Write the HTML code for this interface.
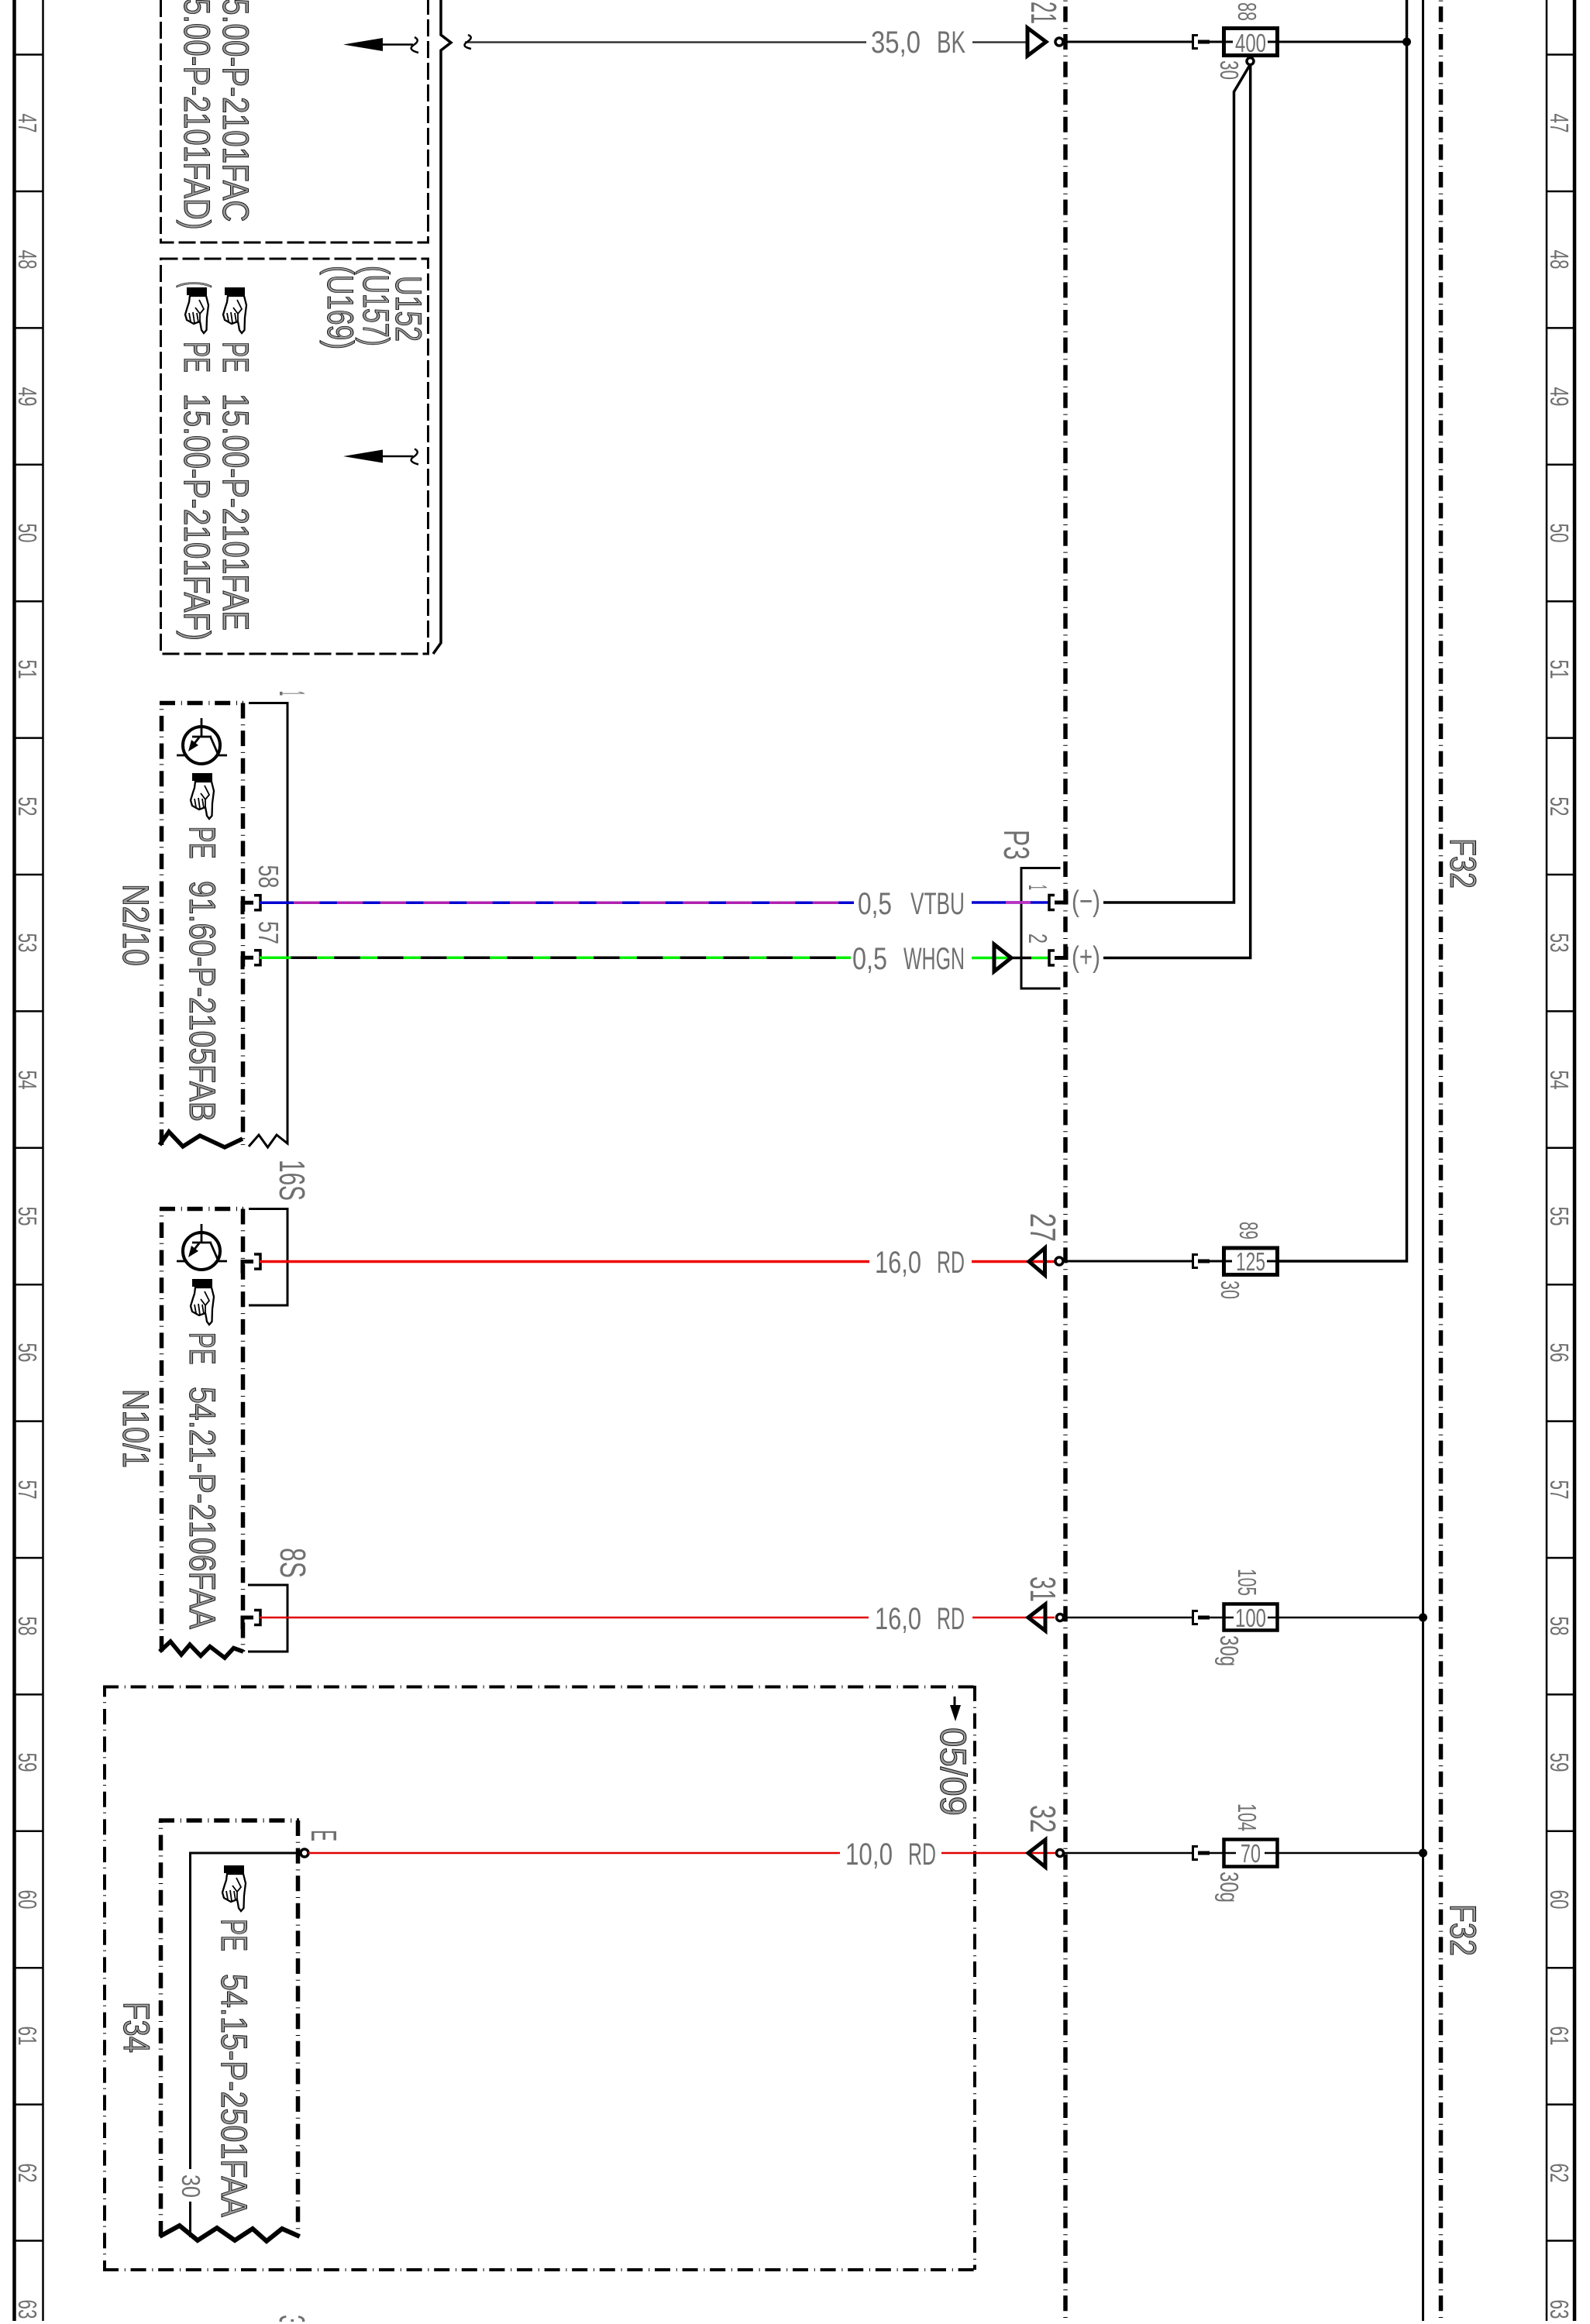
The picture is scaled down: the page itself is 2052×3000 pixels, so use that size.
<!DOCTYPE html>
<html><head><meta charset="utf-8"><title>Diagram</title>
<style>
html,body{margin:0;padding:0;background:#fff}
svg{display:block}
text{font-family:"Liberation Sans",sans-serif}
.t{fill:#707070}
.h{fill:#999;stroke:#111;stroke-width:1}
.w{fill:none;stroke:#000;stroke-linecap:butt;stroke-linejoin:miter}
</style></head><body>
<svg xmlns="http://www.w3.org/2000/svg" width="2052" height="3000" viewBox="0 0 2052 3000">
<defs>
<g id="hand">
<rect x="0" y="-1" width="26" height="10" fill="#000"/>
<path d="M4 10 L3 18 L1 24 L-2 34 L0 41 L9 46 L17 43 L18 48 L19 54 L22 58 L25.500 54 L26 38 L28 22 L25 10Z" fill="#fff" stroke="#000" stroke-width="2.300"/>
<path d="M3 32 L5 43 M8 31 L10 45 M13 32 L15 44 M17 43 L17 33 L22 27 L16 15 M11 25 L17 33" fill="none" stroke="#000" stroke-width="1.800"/>
</g>
<g id="trans">
<circle cx="260" cy="962" r="24" fill="#fff" stroke="#000" stroke-width="4"/>
<path d="M260 927V951M248 951H273M257 952L245 967M272 952L282 975H293M228 975H242" fill="none" stroke="#000" stroke-width="2.800"/>
<path d="M243 970L247 955L256 962Z" fill="#000"/>
</g>
<g id="plugL">
<path d="M313 15V0H327" fill="none" stroke="#000" stroke-width="5"/>
<path d="M328 -9.500H336V9.500H328" fill="none" stroke="#000" stroke-width="3.500"/>
</g>
<g id="plugR">
<path d="M1546 -8.500H1539.500V8.500H1546" fill="none" stroke="#000" stroke-width="3"/>
<path d="M1546 0H1561" stroke="#000" stroke-width="5"/>
</g>
</defs>

<rect width="2052" height="3000" fill="#fff"/>

<!-- rails -->
<g class="w">
<path class="w" d="M18.500 0V2996" stroke-width="4.500"/>
<path class="w" d="M55.500 0V2996" stroke-width="2.500"/>
<path class="w" d="M1996 0V2996" stroke-width="2.500"/>
<path class="w" d="M2032 0V2996" stroke-width="4.500"/>
<path class="w" stroke-width="2.500" d="M18 70.500H55M18 247H55M18 423.400H55M18 599.800H55M18 776.200H55M18 952.600H55M18 1129H55M18 1305.400H55M18 1481.800H55M18 1658.200H55M18 1834.600H55M18 2011H55M18 2187.400H55M18 2363.800H55M18 2540.200H55M18 2716.600H55M18 2892.500H55"/>
<path class="w" stroke-width="2.500" d="M1996 70.500H2032M1996 247H2032M1996 423.400H2032M1996 599.800H2032M1996 776.200H2032M1996 952.600H2032M1996 1129H2032M1996 1305.400H2032M1996 1481.800H2032M1996 1658.200H2032M1996 1834.600H2032M1996 2011H2032M1996 2187.400H2032M1996 2363.800H2032M1996 2540.200H2032M1996 2716.600H2032M1996 2892.500H2032"/>
</g>
<g class="t" font-size="33" text-anchor="middle">
<text transform="translate(24,159) rotate(90)" textLength="25" lengthAdjust="spacingAndGlyphs">47</text>
<text transform="translate(24,335) rotate(90)" textLength="25" lengthAdjust="spacingAndGlyphs">48</text>
<text transform="translate(24,512) rotate(90)" textLength="25" lengthAdjust="spacingAndGlyphs">49</text>
<text transform="translate(24,688) rotate(90)" textLength="25" lengthAdjust="spacingAndGlyphs">50</text>
<text transform="translate(24,864) rotate(90)" textLength="25" lengthAdjust="spacingAndGlyphs">51</text>
<text transform="translate(24,1041) rotate(90)" textLength="25" lengthAdjust="spacingAndGlyphs">52</text>
<text transform="translate(24,1217) rotate(90)" textLength="25" lengthAdjust="spacingAndGlyphs">53</text>
<text transform="translate(24,1394) rotate(90)" textLength="25" lengthAdjust="spacingAndGlyphs">54</text>
<text transform="translate(24,1570) rotate(90)" textLength="25" lengthAdjust="spacingAndGlyphs">55</text>
<text transform="translate(24,1746) rotate(90)" textLength="25" lengthAdjust="spacingAndGlyphs">56</text>
<text transform="translate(24,1923) rotate(90)" textLength="25" lengthAdjust="spacingAndGlyphs">57</text>
<text transform="translate(24,2099) rotate(90)" textLength="25" lengthAdjust="spacingAndGlyphs">58</text>
<text transform="translate(24,2275) rotate(90)" textLength="25" lengthAdjust="spacingAndGlyphs">59</text>
<text transform="translate(24,2452) rotate(90)" textLength="25" lengthAdjust="spacingAndGlyphs">60</text>
<text transform="translate(24,2628) rotate(90)" textLength="25" lengthAdjust="spacingAndGlyphs">61</text>
<text transform="translate(24,2805) rotate(90)" textLength="25" lengthAdjust="spacingAndGlyphs">62</text>
<text transform="translate(24,2981) rotate(90)" textLength="25" lengthAdjust="spacingAndGlyphs">63</text>
<text transform="translate(2001,159) rotate(90)" textLength="25" lengthAdjust="spacingAndGlyphs">47</text>
<text transform="translate(2001,335) rotate(90)" textLength="25" lengthAdjust="spacingAndGlyphs">48</text>
<text transform="translate(2001,512) rotate(90)" textLength="25" lengthAdjust="spacingAndGlyphs">49</text>
<text transform="translate(2001,688) rotate(90)" textLength="25" lengthAdjust="spacingAndGlyphs">50</text>
<text transform="translate(2001,864) rotate(90)" textLength="25" lengthAdjust="spacingAndGlyphs">51</text>
<text transform="translate(2001,1041) rotate(90)" textLength="25" lengthAdjust="spacingAndGlyphs">52</text>
<text transform="translate(2001,1217) rotate(90)" textLength="25" lengthAdjust="spacingAndGlyphs">53</text>
<text transform="translate(2001,1394) rotate(90)" textLength="25" lengthAdjust="spacingAndGlyphs">54</text>
<text transform="translate(2001,1570) rotate(90)" textLength="25" lengthAdjust="spacingAndGlyphs">55</text>
<text transform="translate(2001,1746) rotate(90)" textLength="25" lengthAdjust="spacingAndGlyphs">56</text>
<text transform="translate(2001,1923) rotate(90)" textLength="25" lengthAdjust="spacingAndGlyphs">57</text>
<text transform="translate(2001,2099) rotate(90)" textLength="25" lengthAdjust="spacingAndGlyphs">58</text>
<text transform="translate(2001,2275) rotate(90)" textLength="25" lengthAdjust="spacingAndGlyphs">59</text>
<text transform="translate(2001,2452) rotate(90)" textLength="25" lengthAdjust="spacingAndGlyphs">60</text>
<text transform="translate(2001,2628) rotate(90)" textLength="25" lengthAdjust="spacingAndGlyphs">61</text>
<text transform="translate(2001,2805) rotate(90)" textLength="25" lengthAdjust="spacingAndGlyphs">62</text>
<text transform="translate(2001,2981) rotate(90)" textLength="25" lengthAdjust="spacingAndGlyphs">63</text>
</g>

<!-- dash-dot verticals and bus -->
<g stroke-width="5.500" stroke-dasharray="20 7.800 1 6.800" stroke-dashoffset="27.200">
<path class="w" d="M1375 0V2996"/>
<path class="w" d="M1859.500 0V2996"/>
</g>
<path class="w" d="M1836.500 0V2996" stroke-width="3"/>
<path class="w" d="M1815.500 0V1628H1650" stroke-width="3.500"/>
<circle cx="1815.500" cy="54" r="5.500"/>

<!-- dashed boxes A and B -->
<g stroke-width="3" stroke-dasharray="22 6">
<path class="w" d="M207.500 0V313H552.500V0"/>
<path class="w" d="M207.500 334H552.500V844H207.500Z"/>
</g>
<path class="w" stroke-width="3.500" d="M569 0V45L582 55L569 65V830L559 844"/>
<path class="w" stroke-width="2.500" style="stroke:#333" d="M600 54.500H1118M1255 54.500H1326"/>
<path class="w" stroke-width="2.500" d="M604 45Q612 48 603 54T608 63"/>

<!-- inner arrows -->
<path d="M443 57.500L494 49V66Z"/>
<path class="w" stroke-width="2.500" d="M494 57.500H533"/>
<path class="w" stroke-width="2.500" d="M535 48Q543 52 534 58T540 68"/>
<path d="M443 589L494 580.500V597.500Z"/>
<path class="w" stroke-width="2.500" d="M494 589H533"/>
<path class="w" stroke-width="2.500" d="M535 579.500Q543 583.500 534 589.500T540 599.500"/>

<!-- box text -->
<g class="h" font-size="47">
<text transform="translate(288,-23.500) rotate(90)" textLength="310" lengthAdjust="spacingAndGlyphs">15.00-P-2101FAC</text>
<text transform="translate(238,-23.500) rotate(90)" textLength="320" lengthAdjust="spacingAndGlyphs">15.00-P-2101FAD)</text>
<text transform="translate(288,441) rotate(90)" textLength="40" lengthAdjust="spacingAndGlyphs">PE</text>
<text transform="translate(288,508) rotate(90)" textLength="306" lengthAdjust="spacingAndGlyphs">15.00-P-2101FAE</text>
<text transform="translate(238,363) rotate(90)" textLength="8" lengthAdjust="spacingAndGlyphs">(</text>
<text transform="translate(238,441) rotate(90)" textLength="40" lengthAdjust="spacingAndGlyphs">PE</text>
<text transform="translate(238,508) rotate(90)" textLength="319" lengthAdjust="spacingAndGlyphs">15.00-P-2101FAF)</text>
<text transform="translate(511,356) rotate(90)" textLength="85" lengthAdjust="spacingAndGlyphs">U152</text>
<text transform="translate(469,343) rotate(90)" textLength="104" lengthAdjust="spacingAndGlyphs">(U157)</text>
<text transform="translate(423,343) rotate(90)" textLength="108" lengthAdjust="spacingAndGlyphs">(U169)</text>
</g>
<use href="#hand" x="290" y="372"/>
<use href="#hand" x="241" y="372"/>

<!-- 21 / 400 row -->
<path class="w" stroke-width="5" d="M1326 36V72L1350 54Z"/>
<path class="w" stroke-width="3" d="M1367 54H1539M1561 54H1578M1650 54H1815"/>
<circle cx="1367" cy="54" r="5" fill="#fff" stroke="#000" stroke-width="3.500"/>
<use href="#plugR" y="54"/>
<rect x="1579.500" y="36.500" width="69" height="35" fill="#fff" stroke="#000" stroke-width="5"/>
<path class="w" stroke-width="3" d="M1578 54H1591M1636 54H1650"/>
<text class="t" x="1594" y="67" font-size="33" textLength="40" lengthAdjust="spacingAndGlyphs">400</text>
<path class="w" stroke-width="3.500" d="M1613.700 80V1236.500H1424"/>
<path class="w" stroke-width="3.500" d="M1613 84L1592.500 118.500V1165H1424"/>
<circle cx="1613.500" cy="79" r="4.500" fill="#fff" stroke="#000" stroke-width="3.500"/>
<g class="t" font-size="46">
<text transform="translate(1331,2) rotate(90)" textLength="29" lengthAdjust="spacingAndGlyphs">21</text>
</g>
<g class="t" font-size="33">
<text transform="translate(1598,3) rotate(90)" textLength="24" lengthAdjust="spacingAndGlyphs">88</text>
<text transform="translate(1575,78) rotate(90)" textLength="25" lengthAdjust="spacingAndGlyphs">30</text>
</g>
<g class="t" font-size="40">
<text x="1124" y="68" textLength="64" lengthAdjust="spacingAndGlyphs">35,0</text>
<text x="1209" y="68" textLength="37" lengthAdjust="spacingAndGlyphs">BK</text>
<text x="1107" y="1180" textLength="44" lengthAdjust="spacingAndGlyphs">0,5</text>
<text x="1175" y="1180" textLength="70" lengthAdjust="spacingAndGlyphs">VTBU</text>
<text x="1100" y="1251" textLength="45" lengthAdjust="spacingAndGlyphs">0,5</text>
<text x="1166" y="1251" textLength="79" lengthAdjust="spacingAndGlyphs">WHGN</text>
<text x="1129" y="1643" textLength="60" lengthAdjust="spacingAndGlyphs">16,0</text>
<text x="1209" y="1643" textLength="36" lengthAdjust="spacingAndGlyphs">RD</text>
<text x="1129" y="2103" textLength="60" lengthAdjust="spacingAndGlyphs">16,0</text>
<text x="1209" y="2103" textLength="36" lengthAdjust="spacingAndGlyphs">RD</text>
<text x="1091" y="2407" textLength="61" lengthAdjust="spacingAndGlyphs">10,0</text>
<text x="1172" y="2407" textLength="36" lengthAdjust="spacingAndGlyphs">RD</text>
</g>

<!-- N2/10 -->
<g stroke-width="5.500" stroke-dasharray="20 7.800 1 6.800">
<path class="w" d="M208.500 1478V907.500"/>
<path class="w" d="M206 907.500H314"/>
<path class="w" d="M313.500 907.500V1478"/>
</g>
<path class="w" stroke-width="5.500" d="M206 1478L218 1461L236 1480L258 1466L290 1481L313 1470"/>
<path class="w" stroke-width="3" d="M321 907.500H371V1476L357 1465L345.500 1481L334 1465L321 1480"/>
<use href="#trans"/>
<use href="#hand" x="248" y="999"/>
<g class="h" font-size="47">
<text transform="translate(245,1066.600) rotate(90)" textLength="42" lengthAdjust="spacingAndGlyphs">PE</text>
<text transform="translate(245,1137) rotate(90)" textLength="311" lengthAdjust="spacingAndGlyphs">91.60-P-2105FAB</text>
<text transform="translate(159,1141) rotate(90)" textLength="106" lengthAdjust="spacingAndGlyphs">N2/10</text>
</g>
<use href="#plugL" y="1165.300"/>
<use href="#plugL" y="1236.300"/>
<path class="w" style="stroke:#0000d0" stroke-width="3.500" d="M335 1165.300H1102"/>
<path class="w" style="stroke:#b020b0" stroke-width="3.500" stroke-dasharray="33.500 22.300" d="M379 1165.300H1102"/>
<path class="w" style="stroke:#00f000" stroke-width="3.500" d="M335 1236.300H1098"/>
<path class="w" style="stroke:#000" stroke-width="3.500" stroke-dasharray="33.500 22.300" d="M375.500 1236.300H1098"/>
<g class="t" font-size="36">
<text transform="translate(334,1116.500) rotate(90)" textLength="30" lengthAdjust="spacingAndGlyphs">58</text>
<text transform="translate(334,1189) rotate(90)" textLength="30" lengthAdjust="spacingAndGlyphs">57</text>
</g>
<g class="t" font-size="46">
<text transform="translate(361,892) rotate(90)" textLength="6" lengthAdjust="spacingAndGlyphs">1</text>
<text transform="translate(361,1497) rotate(90)" textLength="53" lengthAdjust="spacingAndGlyphs">16S</text>
<text transform="translate(362,1998) rotate(90)" textLength="39" lengthAdjust="spacingAndGlyphs">8S</text>
<text transform="translate(361,2988) rotate(90)" textLength="16" lengthAdjust="spacingAndGlyphs">3</text>
</g>

<!-- P3 -->
<path class="w" stroke-width="3" d="M1368.500 1120.500H1318V1276H1368.500"/>
<path class="w" style="stroke:#0000d0" stroke-width="3.500" d="M1254 1165H1353"/>
<path class="w" style="stroke:#c030c0" stroke-width="3.500" d="M1298 1165H1330"/>
<path class="w" style="stroke:#00f000" stroke-width="3.500" d="M1254 1236.500H1300"/>
<path class="w" stroke-width="3.500" d="M1300 1236.500H1331"/>
<path class="w" style="stroke:#00f000" stroke-width="3.500" d="M1331 1236.500H1354"/>
<path class="w" stroke-width="5" d="M1283 1219V1254L1305 1236.500Z"/>
<path class="w" stroke-width="3.500" d="M1361 1155.500H1354V1174.500H1361"/>
<path class="w" stroke-width="5" d="M1361 1165H1376V1150"/>
<path class="w" stroke-width="3.500" d="M1361 1227H1354V1246H1361"/>
<path class="w" stroke-width="5" d="M1361 1236.500H1376V1222"/>
<g class="t" font-size="46">
<text transform="translate(1296,1071) rotate(90)" textLength="39" lengthAdjust="spacingAndGlyphs">P3</text>
</g>
<g class="t" font-size="33">
<text transform="translate(1328,1142) rotate(90)" textLength="7" lengthAdjust="spacingAndGlyphs">1</text>
<text transform="translate(1328,1205) rotate(90)" textLength="13" lengthAdjust="spacingAndGlyphs">2</text>
<text x="1383" y="1176" font-size="38" textLength="37" lengthAdjust="spacingAndGlyphs">(−)</text>
<text x="1383" y="1248" font-size="38" textLength="37" lengthAdjust="spacingAndGlyphs">(+)</text>
</g>

<!-- N10/1 -->
<g stroke-width="5.500" stroke-dasharray="20 7.800 1 6.800">
<path class="w" d="M208.500 2132V1560.500"/>
<path class="w" d="M206 1560.500H314"/>
<path class="w" d="M313.500 1560.500V2132"/>
</g>
<path class="w" stroke-width="5.500" d="M206 2132L220 2119L234 2136L245 2123L259 2137.500L271 2125.500L290 2140L301.500 2127.500L314 2132"/>
<path class="w" stroke-width="3" d="M321 1560.500H371V1685H321"/>
<path class="w" stroke-width="3" d="M320 2046H371V2132H320"/>
<use href="#trans" y="653"/>
<use href="#hand" x="248" y="1652"/>
<g class="h" font-size="47">
<text transform="translate(245,1719.600) rotate(90)" textLength="42" lengthAdjust="spacingAndGlyphs">PE</text>
<text transform="translate(245,1790) rotate(90)" textLength="313" lengthAdjust="spacingAndGlyphs">54.21-P-2106FAA</text>
<text transform="translate(159,1793) rotate(90)" textLength="102" lengthAdjust="spacingAndGlyphs">N10/1</text>
</g>
<use href="#plugL" y="1628.500"/>
<use href="#plugL" y="2088"/>
<path class="w" style="stroke:#f00000" stroke-width="3.500" d="M335 1628.500H1122M1254 1628.500H1367"/>
<path class="w" style="stroke:#e00000" stroke-width="2.500" d="M335 2088H1121M1255 2088H1361"/>

<!-- row 27 -->
<path class="w" stroke-width="5" d="M1348.500 1611V1646L1328 1628.500Z"/>
<path class="w" stroke-width="3" d="M1367 1628H1539M1561 1628H1578"/>
<circle cx="1367" cy="1628" r="5" fill="#fff" stroke="#000" stroke-width="3.500"/>
<use href="#plugR" y="1628"/>
<rect x="1579.500" y="1611" width="69" height="34.500" fill="#fff" stroke="#000" stroke-width="5"/>
<path class="w" stroke-width="3" d="M1578 1628H1590M1635 1628H1650"/>
<text class="t" x="1595" y="1640" font-size="33" textLength="38" lengthAdjust="spacingAndGlyphs">125</text>
<g class="t" font-size="33">
<text transform="translate(1600,1577) rotate(90)" textLength="23" lengthAdjust="spacingAndGlyphs">89</text>
<text transform="translate(1576,1653) rotate(90)" textLength="24" lengthAdjust="spacingAndGlyphs">30</text>
</g>
<g class="t" font-size="46">
<text transform="translate(1330,1566) rotate(90)" textLength="37" lengthAdjust="spacingAndGlyphs">27</text>
</g>

<!-- row 31 -->
<path class="w" stroke-width="5" d="M1349 2071V2105L1327 2088Z"/>
<path class="w" stroke-width="2.500" d="M1368 2088H1539M1561 2088H1578M1650 2088H1836"/>
<circle cx="1368" cy="2088" r="4.500" fill="#fff" stroke="#000" stroke-width="3.500"/>
<use href="#plugR" y="2088"/>
<rect x="1579.500" y="2070.500" width="69" height="34" fill="#fff" stroke="#000" stroke-width="4.500"/>
<path class="w" stroke-width="2.500" d="M1578 2088H1592M1636 2088H1650"/>
<text class="t" x="1594" y="2100" font-size="33" textLength="40" lengthAdjust="spacingAndGlyphs">100</text>
<circle cx="1836.500" cy="2088" r="5.500"/>
<g class="t" font-size="33">
<text transform="translate(1598,2025) rotate(90)" textLength="35" lengthAdjust="spacingAndGlyphs">105</text>
<text transform="translate(1575,2111) rotate(90)" textLength="40" lengthAdjust="spacingAndGlyphs">30g</text>
</g>
<g class="t" font-size="46">
<text transform="translate(1330,2035) rotate(90)" textLength="33" lengthAdjust="spacingAndGlyphs">31</text>
</g>

<!-- F34 outer -->
<g stroke-width="4" stroke-dasharray="20 7.800 1 6.800">
<path class="w" d="M133 2930H1260"/>
<path class="w" d="M133 2177.500H1260"/>
<path class="w" d="M135 2930V2176" stroke-dashoffset="8"/>
<path class="w" d="M1258 2176V2930"/>
</g>
<path class="w" stroke-width="3" d="M1232 2190V2205"/>
<path d="M1226 2201H1240L1233 2222Z"/>
<text class="h" transform="translate(1214,2230) rotate(90)" font-size="47" textLength="114" lengthAdjust="spacingAndGlyphs">05/09</text>
<text class="h" transform="translate(160,2584) rotate(90)" font-size="47" textLength="66" lengthAdjust="spacingAndGlyphs">F34</text>

<!-- F34 inner -->
<g stroke-width="5.500" stroke-dasharray="20 7.800 1 6.800">
<path class="w" d="M207.500 2887V2350"/>
<path class="w" d="M205 2350H386"/>
<path class="w" d="M384.500 2350V2887"/>
</g>
<path class="w" stroke-width="6" d="M206 2887L231.700 2873L255 2892L280 2876L303 2892L326 2877L344 2893L364 2877L386.700 2887"/>
<path class="w" stroke-width="3" d="M388 2392H245.500V2800M245.500 2842V2888"/>
<circle cx="393" cy="2392" r="5" fill="#fff" stroke="#000" stroke-width="3.500"/>
<use href="#hand" x="289" y="2409"/>
<g class="h" font-size="47">
<text transform="translate(286,2477) rotate(90)" textLength="42" lengthAdjust="spacingAndGlyphs">PE</text>
<text transform="translate(286,2548) rotate(90)" textLength="314" lengthAdjust="spacingAndGlyphs">54.15-P-2501FAA</text>
</g>
<g class="t" font-size="33">
<text transform="translate(235,2807) rotate(90)" textLength="30" lengthAdjust="spacingAndGlyphs">30</text>
</g>
<g class="t" font-size="46">
<text transform="translate(402,2362) rotate(90)" textLength="15" lengthAdjust="spacingAndGlyphs">E</text>
</g>

<!-- row 32 -->
<path class="w" style="stroke:#e00000" stroke-width="2.500" d="M398 2392H1084M1215 2392H1362"/>
<path class="w" stroke-width="5" d="M1349 2375V2410L1327 2392Z"/>
<path class="w" stroke-width="2.500" d="M1368 2392H1539M1561 2392H1578M1650 2392H1836"/>
<circle cx="1368" cy="2392" r="4.500" fill="#fff" stroke="#000" stroke-width="3.500"/>
<use href="#plugR" y="2392"/>
<rect x="1579.500" y="2374.500" width="69" height="35" fill="#fff" stroke="#000" stroke-width="4.500"/>
<path class="w" stroke-width="2.500" d="M1578 2392H1595M1632 2392H1650"/>
<text class="t" x="1601" y="2404" font-size="33" textLength="26" lengthAdjust="spacingAndGlyphs">70</text>
<circle cx="1836.500" cy="2392" r="5.500"/>
<g class="t" font-size="33">
<text transform="translate(1598,2328) rotate(90)" textLength="36" lengthAdjust="spacingAndGlyphs">104</text>
<text transform="translate(1575,2416) rotate(90)" textLength="40" lengthAdjust="spacingAndGlyphs">30g</text>
</g>
<g class="t" font-size="46">
<text transform="translate(1330,2330) rotate(90)" textLength="36" lengthAdjust="spacingAndGlyphs">32</text>
</g>

<!-- F32 -->
<g class="h" font-size="47">
<text transform="translate(1872,1082) rotate(90)" textLength="65" lengthAdjust="spacingAndGlyphs">F32</text>
<text transform="translate(1872,2458) rotate(90)" textLength="67" lengthAdjust="spacingAndGlyphs">F32</text>
</g>

<rect x="0" y="2997" width="2052" height="3" fill="#fff"/>
</svg>
</body></html>
